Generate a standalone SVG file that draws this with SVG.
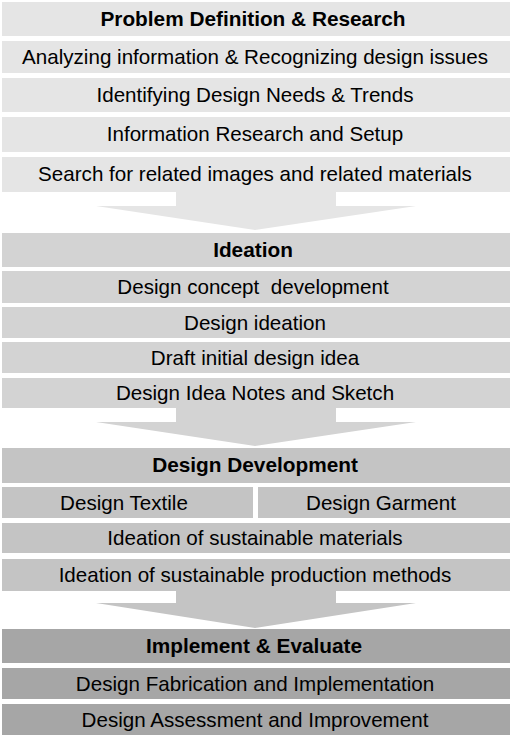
<svg xmlns="http://www.w3.org/2000/svg" width="510" height="739" viewBox="0 0 510 739">
<style>
.t{font-family:"Liberation Sans",Arial,sans-serif;font-size:20.6px;fill:#000;text-anchor:middle}
.b{font-weight:bold;font-size:20.8px}
.c1{fill:#e5e5e5}
.c2{fill:#d3d3d3}
.c3{fill:#c4c4c4}
.c4{fill:#a6a6a6}
</style>
<rect width="510" height="739" fill="#fff"/>
<g id="connectors">
<polygon class="c1" points="176,191 336,191 336,206 416,206 255,230 96,206 176,206"/>
<polygon class="c2" points="176,407 336,407 336,422 416,422 255,446 96,422 176,422"/>
<polygon class="c3" points="176,590 336,590 336,603 416,603 255,628 96,603 176,603"/>
</g>
<g id="s1-header"><rect class="c1" x="2" y="2" width="508" height="34"/><text class="t b" x="253" y="26">Problem Definition &amp; Research</text></g>
<g id="s1-r1"><rect class="c1" x="2" y="41" width="508" height="32"/><text class="t" x="255" y="64">Analyzing information &amp; Recognizing design issues</text></g>
<g id="s1-r2"><rect class="c1" x="2" y="78" width="508" height="34"/><text class="t" x="255" y="102">Identifying Design Needs &amp; Trends</text></g>
<g id="s1-r3"><rect class="c1" x="2" y="117" width="508" height="35"/><text class="t" x="255" y="141">Information Research and Setup</text></g>
<g id="s1-r4"><rect class="c1" x="2" y="157" width="508" height="35"/><text class="t" x="255" y="181">Search for related images and related materials</text></g>

<g id="s2-header"><rect class="c2" x="2" y="233" width="508" height="34"/><text class="t b" x="253" y="257">Ideation</text></g>
<g id="s2-r1"><rect class="c2" x="2" y="271" width="508" height="32"/><text class="t" x="253" y="294" xml:space="preserve">Design concept  development</text></g>
<g id="s2-r2"><rect class="c2" x="2" y="307" width="508" height="31"/><text class="t" x="255" y="330">Design ideation</text></g>
<g id="s2-r3"><rect class="c2" x="2" y="342" width="508" height="31"/><text class="t" x="255" y="365">Draft initial design idea</text></g>
<g id="s2-r4"><rect class="c2" x="2" y="378" width="508" height="30"/><text class="t" x="255" y="400">Design Idea Notes and Sketch</text></g>

<g id="s3-header"><rect class="c3" x="2" y="448" width="508" height="35"/><text class="t b" x="255" y="472">Design Development</text></g>
<g id="s3-textile"><rect class="c3" x="2" y="487" width="251" height="31"/><text class="t" x="124" y="510">Design Textile</text></g>
<g id="s3-garment"><rect class="c3" x="258" y="487" width="252" height="31"/><text class="t" x="381" y="510">Design Garment</text></g>
<g id="s3-r2"><rect class="c3" x="2" y="523" width="508" height="30"/><text class="t" x="255" y="545">Ideation of sustainable materials</text></g>
<g id="s3-r3"><rect class="c3" x="2" y="559" width="508" height="32"/><text class="t" x="255" y="582">Ideation of sustainable production methods</text></g>

<g id="s4-header"><rect class="c4" x="2" y="629" width="508" height="34"/><text class="t b" x="254" y="653">Implement &amp; Evaluate</text></g>
<g id="s4-r1"><rect class="c4" x="2" y="668" width="508" height="31"/><text class="t" x="255" y="691">Design Fabrication and Implementation</text></g>
<g id="s4-r2"><rect class="c4" x="2" y="704" width="508" height="31"/><text class="t" x="255" y="727">Design Assessment and Improvement</text></g>
</svg>
